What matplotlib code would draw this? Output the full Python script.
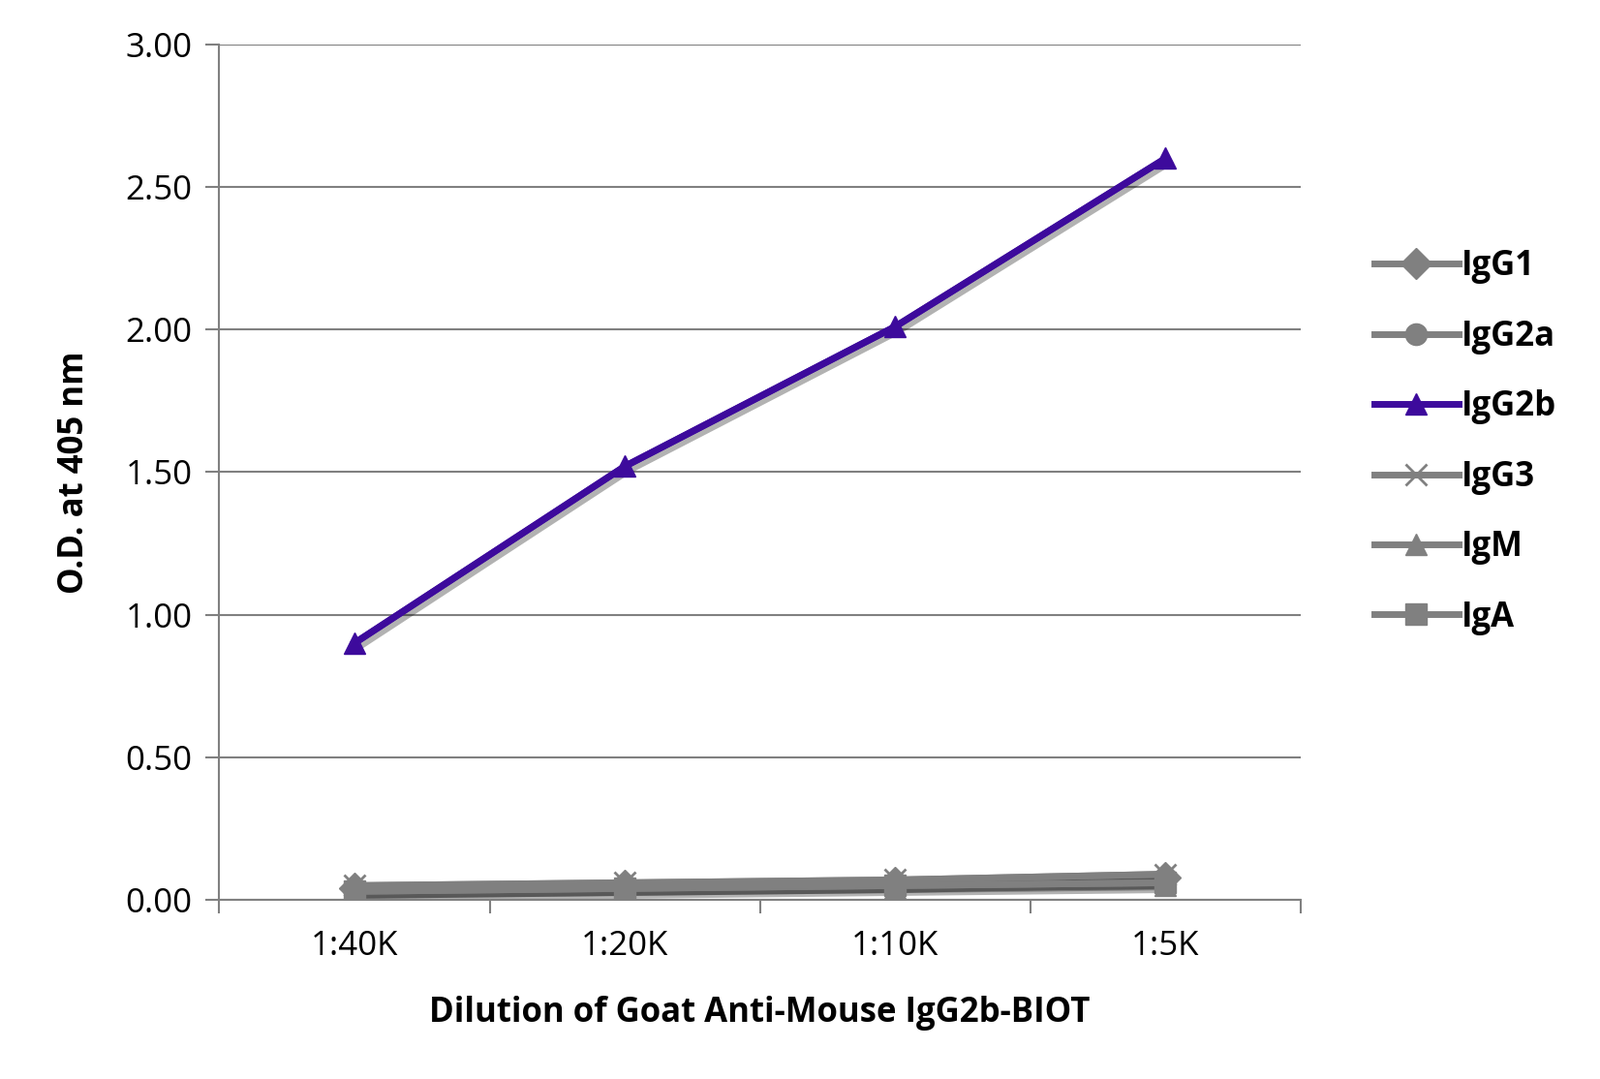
import matplotlib
matplotlib.use("Agg")
import matplotlib.pyplot as plt
import matplotlib.patheffects as pe

plt.rcParams["font.family"] = "Open Sans"

categories = ["1:40K", "1:20K", "1:10K", "1:5K"]
igg1 = [0.04, 0.05, 0.06, 0.08]
igg2a = [0.03, 0.04, 0.05, 0.07]
igg2b = [0.90, 1.52, 2.01, 2.60]
igg3 = [0.05, 0.06, 0.07, 0.09]
igm = [0.02, 0.03, 0.04, 0.05]
iga = [0.03, 0.04, 0.05, 0.06]

fig = plt.figure(figsize=(16.52, 11.14), dpi=100)
ax = fig.add_axes([0.137, 0.166, 0.676, 0.793])
x = list(range(len(categories)))
gray = "#808080"
shadow = [pe.SimpleLineShadow(offset=(3, -3), alpha=0.3, shadow_color="black"), pe.Normal()]
series = [("IgG1", igg1, "D", gray), ("IgG2a", igg2a, "o", gray), ("IgG2b", igg2b, "^", "#3d0a9c"),
          ("IgG3", igg3, "x", gray), ("IgM", igm, "^", gray), ("IgA", iga, "s", gray)]
for name, vals, m, c in series:
    ax.plot(x, vals, color=c, linewidth=5, path_effects=shadow)
    ax.plot(x, vals, color=c, marker=m, markersize=16, linewidth=5, label=name,
            markeredgewidth=2 if m == "x" else 1, markeredgecolor=c)

ax.set_xlim(-0.5, 3.5)
ax.set_ylim(0, 3.0)
ax.set_yticks([0, 0.5, 1.0, 1.5, 2.0, 2.5, 3.0])
ax.set_yticklabels([f"{v:.2f}" for v in [0, 0.5, 1.0, 1.5, 2.0, 2.5, 3.0]], fontsize=25)
ax.set_xticks(x)
ax.set_xticklabels(categories, fontsize=25)
ax.set_xticks([-0.5, 0.5, 1.5, 2.5, 3.5], minor=True)
ax.tick_params(axis="x", which="major", length=0, pad=22)
ax.tick_params(axis="x", which="minor", length=10, color=gray, width=1.5)
ax.tick_params(axis="y", length=10, color=gray, width=1.5, pad=10)
ax.grid(axis="y", color=gray, linewidth=1.5)
ax.set_axisbelow(True)
for s in ["top", "right"]:
    ax.spines[s].set_visible(False)
for s in ["left", "bottom"]:
    ax.spines[s].set_color(gray)
    ax.spines[s].set_linewidth(1.5)
ax.set_ylabel("O.D. at 405 nm", fontsize=25, fontweight="bold", labelpad=25)
ax.set_xlabel("Dilution of Goat Anti-Mouse IgG2b-BIOT", fontsize=25, fontweight="bold", labelpad=25)
ax.legend(loc="center left", bbox_to_anchor=(1.04, 0.535), frameon=False,
          prop={"weight": "bold", "size": 25}, handlelength=2.5, labelspacing=1.05, handletextpad=0.1)
fig.savefig("out.png", dpi=100)
